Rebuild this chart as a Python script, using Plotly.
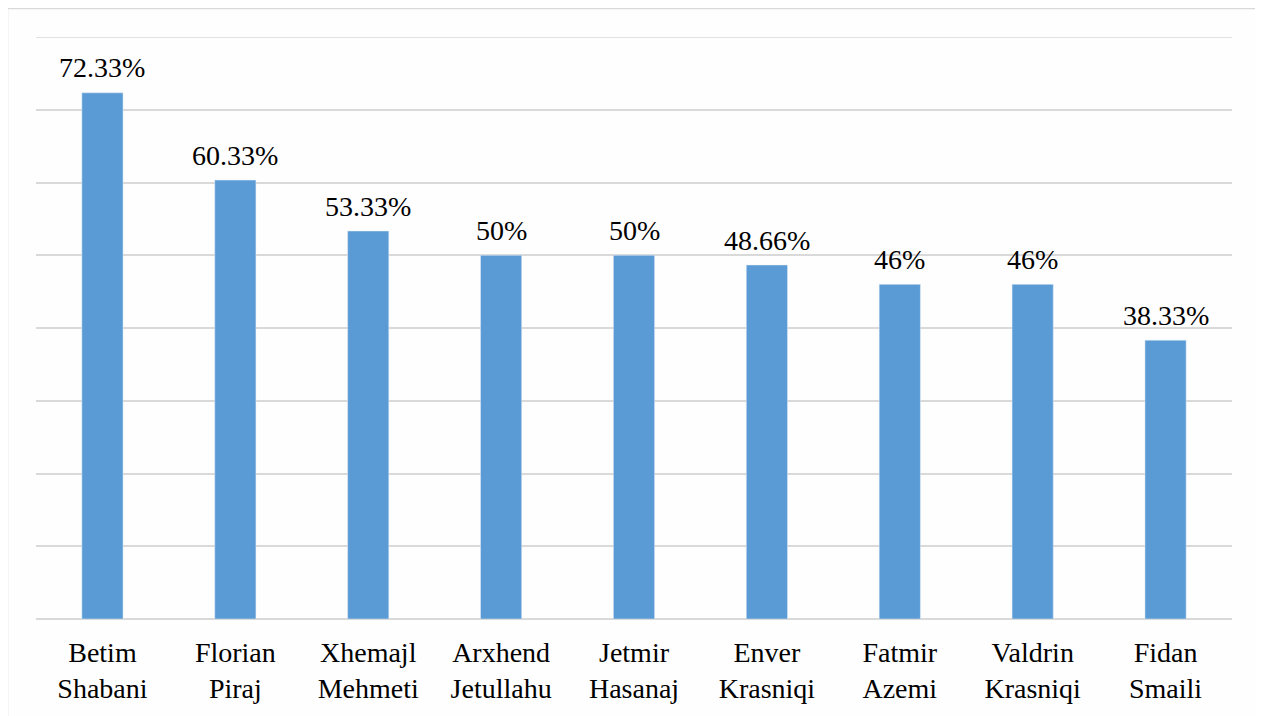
import plotly.graph_objects as go

categories = ["Betim<br>Shabani", "Florian<br>Piraj", "Xhemajl<br>Mehmeti", "Arxhend<br>Jetullahu",
              "Jetmir<br>Hasanaj", "Enver<br>Krasniqi", "Fatmir<br>Azemi", "Valdrin<br>Krasniqi", "Fidan<br>Smaili"]
values = [72.33, 60.33, 53.33, 50, 50, 48.66, 46, 46, 38.33]
labels = ["72.33%", "60.33%", "53.33%", "50%", "50%", "48.66%", "46%", "46%", "38.33%"]

FONT = "Liberation Serif"
OFF = 8  # page body offset
W, H = 1255, 708
L, T = 36 - OFF, 37 - OFF
R = W - (1232 - OFF)
B = H - (619 - OFF)
pw, ph = W - L - R, H - T - B

fig = go.Figure()
fig.add_trace(go.Bar(x=categories, y=values, marker=dict(color="#5B9BD5"), width=0.31))

for c, v, t in zip(categories, values, labels):
    fig.add_annotation(x=c, y=v, text=t, showarrow=False, yanchor="middle", yshift=25,
                       font=dict(family=FONT, size=28, color="#000000"))

def px_x(p):
    return (p - OFF - L) / pw

def px_y(p):
    return (H - B - (p - OFF)) / ph

line = dict(color="#D9D9D9", width=1.5)
x0, x1, ytop, ybot = px_x(7.5), px_x(1260), px_y(8.5), px_y(760)
fig.add_shape(type="line", xref="paper", yref="paper", x0=x0, x1=x0, y0=ybot, y1=ytop, line=line)
fig.add_shape(type="line", xref="paper", yref="paper", x0=x0, x1=x1, y0=ytop, y1=ytop, line=line)
fig.add_shape(type="line", xref="paper", yref="paper", x0=x1, x1=x1, y0=ybot, y1=ytop, line=line)
fig.add_shape(type="line", xref="paper", yref="y", x0=0, x1=1, y0=80, y1=80, line=line, layer="below")

fig.update_layout(
    width=W, height=H,
    margin=dict(l=L, r=R, t=T, b=B),
    paper_bgcolor="#FEFEFE", plot_bgcolor="#FEFEFE",
    xaxis=dict(showgrid=False, ticks="", tickfont=dict(family=FONT, size=28, color="#000000"),
               automargin=False, ticklabelstandoff=14),
    yaxis=dict(range=[0, 80], dtick=10, showticklabels=False, gridcolor="#D9D9D9", gridwidth=1.5,
               zeroline=True, zerolinecolor="#D9D9D9", zerolinewidth=1.5, automargin=False),
)

fig.write_html("out.html")
